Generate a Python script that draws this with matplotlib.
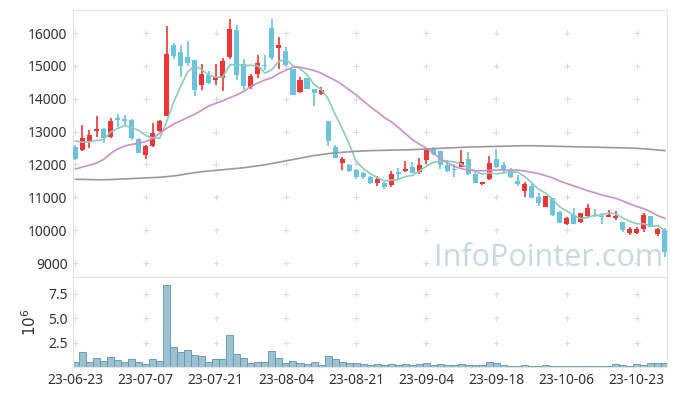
import matplotlib
matplotlib.use("Agg")
import matplotlib.pyplot as plt
import numpy as np

plt.rcParams['font.family'] = ['Noto Sans', 'DejaVu Sans']

# trading days shown on the axis (every 10th bar)
tick_labels = ['23-06-23', '23-07-07', '23-07-21', '23-08-04', '23-08-21',
               '23-09-04', '23-09-18', '23-10-06', '23-10-23']

opens = [12540, 12449, 12692, 13027, 13069, 12845, 13413, 13392, 13352, 12765,
         12297, 12570, 13027, 13483, 15635, 15431, 15270, 15178, 14427, 14731,
         14560, 14640, 15279, 16091, 15047, 14347, 14761, 15026, 16161, 15553,
         15461, 14895, 14214, 14621, 14296, 14144, 13322, 12540, 12053, 11983,
         11831, 11730, 11627, 11426, 11426, 11375, 11779, 11801, 11922, 11761,
         12135, 12461, 12418, 11983, 11852, 11922, 12166, 11709, 11396, 11548,
         12166, 11983, 11846, 11496, 11201, 11344, 11000, 10714, 10970, 10562,
         10179, 10462, 10258, 10440, 10556, 10440, 10410, 10379, 10258, 9923,
         9905, 10026, 10431, 9874, 10005]
highs = [12590, 13191, 13039, 13474, 13118, 13413, 13526, 13504, 13373, 12796,
         12583, 13252, 13343, 16213, 15705, 15635, 15756, 15178, 15047, 14843,
         15066, 15230, 16426, 16243, 15199, 14743, 15330, 15330, 16426, 15878,
         15583, 14895, 14670, 14630, 14296, 14366, 13322, 12592, 12236, 12014,
         11852, 11761, 11658, 11648, 11457, 11791, 11883, 12114, 12065, 12187,
         12491, 12540, 12418, 12135, 12004, 12430, 12379, 11730, 11475, 12257,
         12470, 12084, 11892, 11679, 11457, 11426, 11122, 11040, 10970, 10583,
         10410, 10665, 10532, 10787, 10644, 10513, 10614, 10583, 10258, 10105,
         10087, 10532, 10431, 10075, 10075]
lows = [12150, 12418, 12500, 12845, 12662, 12814, 13149, 13170, 12735, 12339,
        12175, 12540, 12996, 13474, 15199, 14652, 14996, 14092, 14265, 14457,
        14427, 14235, 15218, 14570, 14265, 14296, 14621, 14865, 15178, 14904,
        14996, 14113, 14183, 14296, 13778, 14104, 12561, 12187, 11831, 11761,
        11557, 11557, 11396, 11353, 11262, 11304, 11557, 11770, 11730, 11700,
        12004, 12287, 11861, 11779, 11627, 11913, 11679, 11426, 11384, 11518,
        11892, 11749, 11588, 11344, 11018, 10970, 10735, 10714, 10431, 10218,
        10157, 10179, 10227, 10410, 10410, 10179, 10391, 10309, 9954, 9853,
        9874, 9954, 10096, 9832, 9193]
closes = [12175, 12814, 12896, 13088, 12805, 13322, 13362, 13331, 12814, 12357,
          12561, 12948, 13313, 15361, 15300, 14996, 15096, 14274, 14752, 14487,
          14661, 15148, 16122, 14720, 14396, 14701, 15087, 14996, 15248, 15644,
          15026, 14113, 14570, 14296, 14183, 14265, 12713, 12187, 12157, 11810,
          11609, 11609, 11426, 11557, 11304, 11709, 11709, 11870, 11730, 11983,
          12440, 12309, 11983, 11810, 11831, 12084, 11700, 11444, 11466, 12035,
          11931, 11831, 11627, 11396, 11396, 10970, 10836, 11040, 10462, 10227,
          10361, 10179, 10532, 10665, 10540, 10410, 10462, 10440, 10005, 10035,
          10035, 10462, 10096, 10026, 9327]

ma5 = [12710, 12680, 12690, 12730, 12756, 12985, 13095, 13182, 13127, 13037,
       12885, 12802, 12799, 13308, 13897, 14384, 14813, 15005, 14884, 14721,
       14654, 14664, 15034, 15028, 15009, 15017, 15005, 14780, 14886, 15135,
       15200, 15005, 14920, 14730, 14438, 14285, 14005, 13529, 13101, 12626,
       12095, 11874, 11722, 11602, 11501, 11521, 11541, 11630, 11664, 11800,
       11946, 12066, 12089, 12105, 12075, 12003, 11882, 11774, 11705, 11746,
       11715, 11741, 11778, 11764, 11636, 11444, 11245, 11128, 10941, 10707,
       10585, 10454, 10352, 10393, 10455, 10465, 10522, 10503, 10371, 10270,
       10195, 10195, 10127, 10131, 9989]
ma20 = [11861, 11920, 11980, 12040, 12150, 12330, 12470, 12560, 12610, 12640,
        12700, 12790, 12950, 13100, 13230, 13330, 13430, 13530, 13650, 13780,
        13860, 13940, 14030, 14120, 14220, 14380, 14480, 14570, 14640, 14770,
        14870, 14960, 14960, 14910, 14860, 14780, 14670, 14560, 14430, 14270,
        14120, 13940, 13760, 13600, 13430, 13300, 13130, 12940, 12760, 12620,
        12490, 12340, 12180, 12050, 11940, 11870, 11830, 11810, 11810, 11820,
        11830, 11830, 11830, 11830, 11800, 11760, 11720, 11660, 11590, 11500,
        11420, 11350, 11270, 11200, 11140, 11070, 11020, 10970, 10890, 10800,
        10720, 10650, 10560, 10440, 10360]
ma120 = [11548, 11545, 11540, 11535, 11535, 11540, 11550, 11560, 11570, 11580,
         11590, 11600, 11610, 11630, 11650, 11680, 11720, 11750, 11780, 11800,
         11820, 11840, 11860, 11880, 11900, 11930, 11960, 11990, 12030, 12070,
         12110, 12150, 12190, 12230, 12270, 12300, 12330, 12350, 12370, 12385,
         12400, 12410, 12420, 12425, 12430, 12435, 12440, 12445, 12450, 12460,
         12470, 12480, 12490, 12500, 12510, 12520, 12530, 12535, 12540, 12545,
         12550, 12555, 12560, 12565, 12570, 12570, 12565, 12560, 12555, 12550,
         12545, 12540, 12535, 12530, 12525, 12520, 12515, 12510, 12505, 12500,
         12490, 12475, 12460, 12440, 12420]

# volume in millions of shares
volume = [0.48, 1.5, 0.48, 0.89, 0.58, 0.99, 0.72, 0.48, 0.82, 0.48,
          0.31, 0.82, 0.62, 8.42, 2.02, 1.5, 1.71, 1.2, 1.1, 0.48,
          0.82, 0.82, 3.25, 1.3, 0.89, 0.38, 0.48, 0.48, 1.61, 0.89,
          0.38, 0.58, 0.38, 0.27, 0.48, 0.17, 1.1, 0.79, 0.48, 0.38,
          0.38, 0.27, 0.17, 0.27, 0.17, 0.27, 0.17, 0.27, 0.17, 0.27,
          0.38, 0.17, 0.27, 0.17, 0.17, 0.27, 0.17, 0.17, 0.17, 0.48,
          0.38, 0.17, 0.15, 0.12, 0.2, 0.15, 0.12, 0.18, 0.15, 0.12,
          0.1, 0.12, 0.1, 0.15, 0.1, 0.12, 0.1, 0.27, 0.17, 0.14,
          0.27, 0.17, 0.38, 0.38, 0.38]

UP = '#ee3636'
DOWN = '#6cc3dc'
GRID = '#dcdcdc'
SPINE = '#e4e4e4'

o = np.array(opens, float)
h = np.array(highs, float)
l = np.array(lows, float)
c = np.array(closes, float)
x = np.arange(len(c))
up = c >= o
cols = np.where(up, UP, DOWN)

fig = plt.figure(figsize=(6.77, 3.96), dpi=100)
ax = fig.add_axes([73 / 677, 119 / 396, 594 / 677, 267 / 396])
axv = fig.add_axes([73 / 677, 29 / 396, 594 / 677, 90 / 396], sharex=ax)

# candles
ax.vlines(x, l, h, colors=cols, linewidth=1.2, zorder=2)
body_bot = np.minimum(o, c)
body_h = np.maximum(np.abs(c - o), 25)
ax.bar(x, body_h, bottom=body_bot, width=0.72, color=cols, zorder=3)

# moving averages
ax.plot(x, ma5, color='#8ccbbf', linewidth=1.2, zorder=4)
ax.plot(x, ma20, color='#cc90c8', linewidth=1.2, zorder=4)
ax.plot(x, ma120, color='#9a9a9a', linewidth=1.2, zorder=4)

xt = np.arange(0, 81, 10)
yt = np.arange(9000, 16001, 1000)
ax.set_ylim(8575, 16700)
ax.set_xlim(-0.35, 84.3)
ax.set_yticks(yt)
ax.set_yticklabels([str(v) for v in yt])
gx, gy = np.meshgrid(xt, yt)
ax.scatter(gx.ravel(), gy.ravel(), marker='+', s=16, color=GRID, linewidths=0.8, zorder=1)

ax.text(83.8, 8900, 'InfoPointer.com', fontsize=22, color='#c6d9e3',
        ha='right', va='baseline', zorder=0, family=['Open Sans', 'DejaVu Sans'])

# volume
axv.bar(x, np.array(volume) * 1e6, width=1.0, color='#9cc2d2',
        edgecolor='#5f94ae', linewidth=0.6, zorder=2)
axv.set_ylim(0, 9.2e6)
vt = [2.5e6, 5.0e6, 7.5e6]
axv.set_yticks(vt)
axv.set_yticklabels(['2.5', '5.0', '7.5'])
gx2, gy2 = np.meshgrid(xt, vt)
axv.scatter(gx2.ravel(), gy2.ravel(), marker='+', s=16, color=GRID, linewidths=0.8, zorder=1)
axv.set_ylabel('$10^6$', fontsize=11, color='#333333', labelpad=6)
axv.set_xticks(xt)
axv.set_xticklabels(tick_labels)

for a in (ax, axv):
    for s in a.spines.values():
        s.set_color(SPINE)
    a.tick_params(length=0, labelsize=10, colors='#333333', pad=4)
plt.setp(ax.get_xticklabels(), visible=False)

fig.savefig('out.png', dpi=100)
